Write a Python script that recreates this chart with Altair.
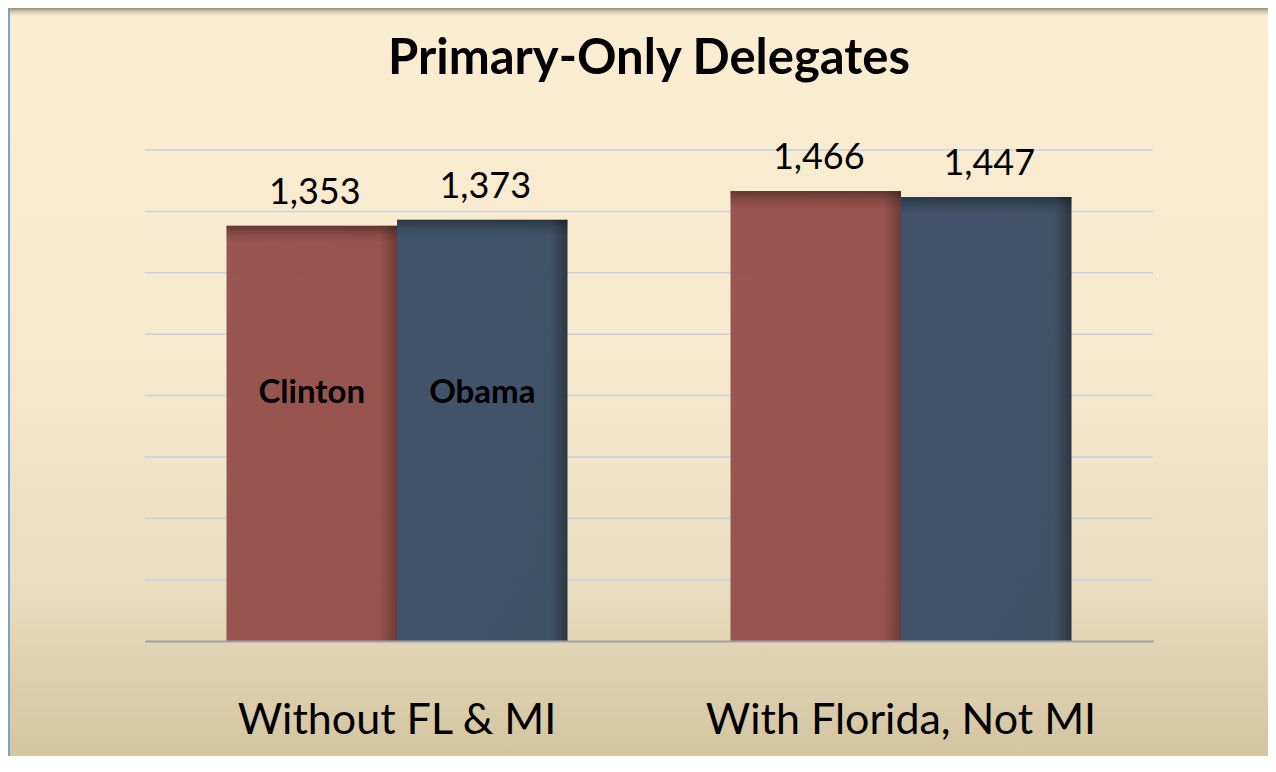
import altair as alt
import pandas as pd

scenarios = ["Without FL & MI", "With Florida, Not MI"]
candidates = ["Clinton", "Obama"]
clinton = [1353, 1466]
obama = [1373, 1447]
grid_values = [200, 400, 600, 800, 1000, 1200, 1400, 1600]
title_text = "Primary-Only Delegates"

rows = []
for i, s in enumerate(scenarios):
    rows.append({"scenario": s, "candidate": "Clinton", "delegates": clinton[i], "label": f"{clinton[i]:,}"})
    rows.append({"scenario": s, "candidate": "Obama", "delegates": obama[i], "label": f"{obama[i]:,}"})
df = pd.DataFrame(rows)
grid_df = pd.DataFrame({"v": grid_values})
one = pd.DataFrame({"a": [0]})

W, H = 1008, 491
PAD = {"left": 137, "top": 142, "right": 115, "bottom": 115}
FONT = "Lato"

yscale = alt.Scale(domain=[0, 1600], nice=False, zero=True)


def xenc():
    return alt.X(
        "scenario:N", sort=scenarios,
        scale=alt.Scale(paddingInner=0, paddingOuter=0),
        axis=alt.Axis(title=None, labelFont=FONT, labelFontSize=43, labelColor="#000000",
                      labelPadding=92, labelBaseline="alphabetic", ticks=False, tickSize=0,
                      labelLimit=0, labelOverlap=False,
                      domainColor="#A0A0A0", domainWidth=2, labelAngle=0, zindex=1, grid=False),
    )


def xoff():
    return alt.XOffset("candidate:N", sort=candidates,
                       scale=alt.Scale(domain=candidates, paddingOuter=0.478, paddingInner=0))


bg_grad = {"gradient": "linear", "x1": 0, "y1": 0, "x2": 0, "y2": 1,
           "stops": [{"offset": 0, "color": "#FBEDD2"},
                     {"offset": 0.45, "color": "#F7E9CD"},
                     {"offset": 0.75, "color": "#EADFC2"},
                     {"offset": 1, "color": "#D4C5A1"}]}
bg = alt.Chart(one).mark_rect(fill=bg_grad).encode(
    x=alt.value(-137), x2=alt.value(W + 115), y=alt.value(-142), y2=alt.value(H + 115))

shade_grad = {"gradient": "linear", "x1": 0, "y1": 0, "x2": 0, "y2": 1,
              "stops": [{"offset": 0, "color": "rgba(120,105,80,0.75)"},
                        {"offset": 1, "color": "rgba(251,237,210,0)"}]}
topshade = alt.Chart(one).mark_rect(fill=shade_grad).encode(
    x=alt.value(-137), x2=alt.value(W + 115), y=alt.value(-142), y2=alt.value(-132))

border = alt.Chart(one).mark_rule(color="#7F9FCD", strokeWidth=2).encode(
    x=alt.value(-136), y=alt.value(-142), y2=alt.value(H + 115))

grid = alt.Chart(grid_df).mark_rule(color="#C6D2E4", strokeWidth=1.5).encode(
    y=alt.Y("v:Q", scale=yscale, axis=None))

c_grad = {"gradient": "linear", "x1": 0, "y1": 0, "x2": 1, "y2": 0,
          "stops": [{"offset": 0, "color": "#96504B"},
                    {"offset": 0.9, "color": "#944E49"},
                    {"offset": 1, "color": "#6A3633"}]}
o_grad = {"gradient": "linear", "x1": 0, "y1": 0, "x2": 1, "y2": 0,
          "stops": [{"offset": 0, "color": "#3B4F68"},
                    {"offset": 0.9, "color": "#3A4E66"},
                    {"offset": 1, "color": "#27323F"}]}

base = alt.Chart(df)
bars_c = base.transform_filter(alt.datum.candidate == "Clinton").mark_bar(
    fill=c_grad, fillOpacity=0.97).encode(
    x=xenc(), xOffset=xoff(), y=alt.Y("delegates:Q", scale=yscale, axis=None))
bars_o = base.transform_filter(alt.datum.candidate == "Obama").mark_bar(
    fill=o_grad, fillOpacity=0.97).encode(
    x=xenc(), xOffset=xoff(), y=alt.Y("delegates:Q", scale=yscale, axis=None))

top_grad = {"gradient": "linear", "x1": 0, "y1": 0, "x2": 0, "y2": 1,
            "stops": [{"offset": 0, "color": "rgba(0,0,0,0.35)"},
                      {"offset": 0.02, "color": "rgba(0,0,0,0.12)"},
                      {"offset": 0.04, "color": "rgba(0,0,0,0)"},
                      {"offset": 1, "color": "rgba(0,0,0,0)"}]}
overlay = base.mark_bar(fill=top_grad).encode(
    x=xenc(), xOffset=xoff(), y=alt.Y("delegates:Q", scale=yscale, axis=None))

values = base.mark_text(font=FONT, fontSize=36, baseline="alphabetic", dy=-22, dx=3,
                        color="#000000").encode(
    x=xenc(), xOffset=xoff(), y=alt.Y("delegates:Q", scale=yscale, axis=None),
    text="label:N")

names = base.transform_filter(alt.datum.scenario == scenarios[0]).mark_text(
    font=FONT, fontSize=33, fontWeight="bold", baseline="alphabetic", color="#000000").encode(
    x=xenc(), xOffset=xoff(), y=alt.value(253), text="candidate:N")

chart = alt.layer(bg, topshade, border, grid, bars_c, bars_o, overlay, values, names).properties(
    width=W, height=H,
    title=alt.Title(title_text, font=FONT, fontSize=49, fontWeight="bold", color="#000000",
                    anchor="middle", frame="group", baseline="alphabetic", offset=0, dy=116),
    padding=PAD,
    autosize=alt.AutoSizeParams(type="none"),
).configure_view(stroke=None)

chart.save("out.html", embed_options={"renderer": "svg", "actions": False})
